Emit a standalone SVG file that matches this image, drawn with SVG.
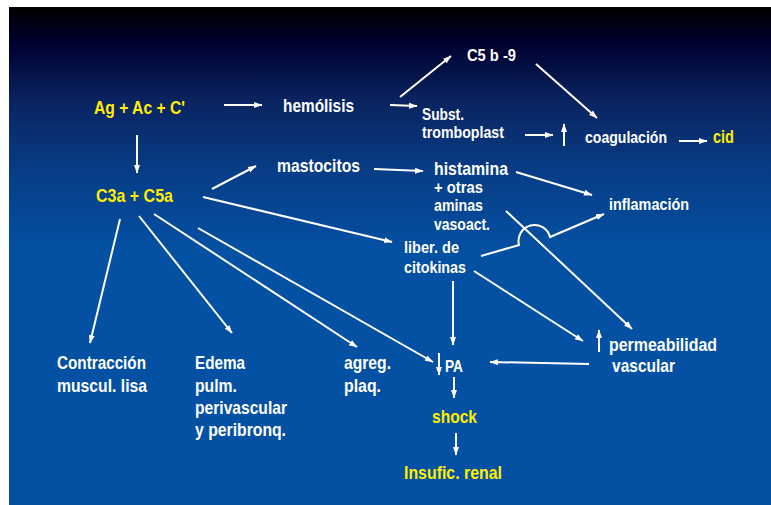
<svg xmlns="http://www.w3.org/2000/svg" width="771" height="505" viewBox="0 0 771 505">
<defs>
<linearGradient id="bg" x1="0" y1="7" x2="0" y2="505" gradientUnits="userSpaceOnUse">
<stop offset="0" stop-color="#000000"/>
<stop offset="0.07" stop-color="#00002e"/>
<stop offset="0.19" stop-color="#0a2461"/>
<stop offset="0.33" stop-color="#073d86"/>
<stop offset="0.49" stop-color="#0450a3"/>
<stop offset="1" stop-color="#0451a4"/>
</linearGradient>
<marker id="ah" markerUnits="userSpaceOnUse" markerWidth="9" markerHeight="7" refX="8" refY="3.5" orient="auto">
<path d="M0,0.5 L8.5,3.5 L0,6.5 z" fill="#ffffff"/>
</marker>
<style>
text{font-family:"Liberation Sans",Arial,sans-serif;font-weight:bold;font-size:19px;fill:#ffffff}
text.y{fill:#ffee00}
text.s{font-size:16.5px}
.c line,.c path{stroke:#ffffff;stroke-width:2;fill:none}
.a{marker-end:url(#ah)}
</style>
</defs>
<rect x="0" y="0" width="771" height="505" fill="#ffffff"/>
<rect x="9" y="7" width="762" height="498" fill="url(#bg)"/>

<g id="connectors" class="c">
<line class="a" x1="224" y1="105" x2="262" y2="105"/>
<line class="a" x1="137" y1="135" x2="137" y2="173"/>
<line class="a" x1="390" y1="105" x2="417" y2="106"/>
<line class="a" x1="400" y1="97" x2="451" y2="56"/>
<line class="a" x1="536" y1="64" x2="597" y2="118"/>
<line class="a" x1="525" y1="135" x2="553" y2="135"/>
<line class="a" x1="564" y1="146" x2="564" y2="124"/>
<line class="a" x1="679" y1="141" x2="707" y2="141"/>
<line class="a" x1="212" y1="189" x2="256" y2="166"/>
<line class="a" x1="374" y1="169" x2="423" y2="171"/>
<line class="a" x1="516" y1="172" x2="592" y2="195"/>
<line class="a" x1="203" y1="197" x2="392" y2="242"/>
<line class="a" x1="506" y1="211" x2="632" y2="329"/>
<path class="a" d="M481,256 L519,245 A14,14 0 0 1 550,237 L604,214"/>
<line class="a" x1="453" y1="281" x2="453" y2="345"/>
<line class="a" x1="474" y1="271" x2="583" y2="341"/>
<line class="a" x1="599" y1="352" x2="599" y2="330"/>
<line class="a" x1="589" y1="364" x2="490" y2="362"/>
<line class="a" x1="439" y1="353" x2="439" y2="375"/>
<line class="a" x1="454" y1="377" x2="454" y2="398"/>
<line class="a" x1="456" y1="433" x2="456" y2="455"/>
<line class="a" x1="120" y1="219" x2="90" y2="343"/>
<line class="a" x1="139" y1="216" x2="232" y2="333"/>
<line class="a" x1="154" y1="214" x2="357" y2="347"/>
<line class="a" x1="198" y1="228" x2="433" y2="362"/>
</g>

<g id="ag"><text class="y" x="94" y="114" textLength="91" lengthAdjust="spacingAndGlyphs">Ag + Ac + C'</text></g>
<g id="hemolisis"><text x="283" y="112" textLength="71" lengthAdjust="spacingAndGlyphs">hemólisis</text></g>
<g id="c5b9"><text class="s" x="467" y="61" textLength="49" lengthAdjust="spacingAndGlyphs">C5 b -9</text></g>
<g id="subst"><text class="s" x="422" y="120" textLength="42" lengthAdjust="spacingAndGlyphs">Subst.</text><text class="s" x="422" y="138" textLength="82" lengthAdjust="spacingAndGlyphs">tromboplast</text></g>
<g id="coagulacion"><text class="s" x="585" y="143" textLength="82" lengthAdjust="spacingAndGlyphs">coagulación</text></g>
<g id="cid"><text class="y" x="713" y="143" textLength="21" lengthAdjust="spacingAndGlyphs">cid</text></g>
<g id="c3a"><text class="y" x="96" y="202" textLength="77" lengthAdjust="spacingAndGlyphs">C3a + C5a</text></g>
<g id="mastocitos"><text x="277" y="172" textLength="83" lengthAdjust="spacingAndGlyphs">mastocitos</text></g>
<g id="histamina"><text x="434" y="175" textLength="74" lengthAdjust="spacingAndGlyphs">histamina</text><text class="s" x="434" y="193" textLength="49" lengthAdjust="spacingAndGlyphs">+ otras</text><text class="s" x="434" y="211" textLength="49" lengthAdjust="spacingAndGlyphs">aminas</text><text class="s" x="434" y="230" textLength="56" lengthAdjust="spacingAndGlyphs">vasoact.</text></g>
<g id="inflamacion"><text class="s" x="609" y="210" textLength="80" lengthAdjust="spacingAndGlyphs">inflamación</text></g>
<g id="citokinas"><text class="s" x="404" y="253" textLength="55" lengthAdjust="spacingAndGlyphs">liber. de</text><text class="s" x="404" y="273" textLength="62" lengthAdjust="spacingAndGlyphs">citokinas</text></g>
<g id="permeabilidad"><text x="609" y="351" textLength="108" lengthAdjust="spacingAndGlyphs">permeabilidad</text><text x="612" y="372" textLength="63" lengthAdjust="spacingAndGlyphs">vascular</text></g>
<g id="pa"><text class="s" x="445" y="372" textLength="18" lengthAdjust="spacingAndGlyphs">PA</text></g>
<g id="shock"><text class="y" x="432" y="423" textLength="45" lengthAdjust="spacingAndGlyphs">shock</text></g>
<g id="insufic"><text class="y" x="404" y="479" textLength="98" lengthAdjust="spacingAndGlyphs">Insufic. renal</text></g>
<g id="contraccion"><text x="57" y="369" textLength="89" lengthAdjust="spacingAndGlyphs">Contracción</text><text x="57" y="392" textLength="90" lengthAdjust="spacingAndGlyphs">muscul. lisa</text></g>
<g id="edema"><text x="195" y="369" textLength="50" lengthAdjust="spacingAndGlyphs">Edema</text><text x="195" y="392" textLength="42" lengthAdjust="spacingAndGlyphs">pulm.</text><text x="195" y="414" textLength="92" lengthAdjust="spacingAndGlyphs">perivascular</text><text x="195" y="436" textLength="91" lengthAdjust="spacingAndGlyphs">y peribronq.</text></g>
<g id="agreg"><text x="344" y="369" textLength="47" lengthAdjust="spacingAndGlyphs">agreg.</text><text x="344" y="392" textLength="37" lengthAdjust="spacingAndGlyphs">plaq.</text></g>
</svg>
